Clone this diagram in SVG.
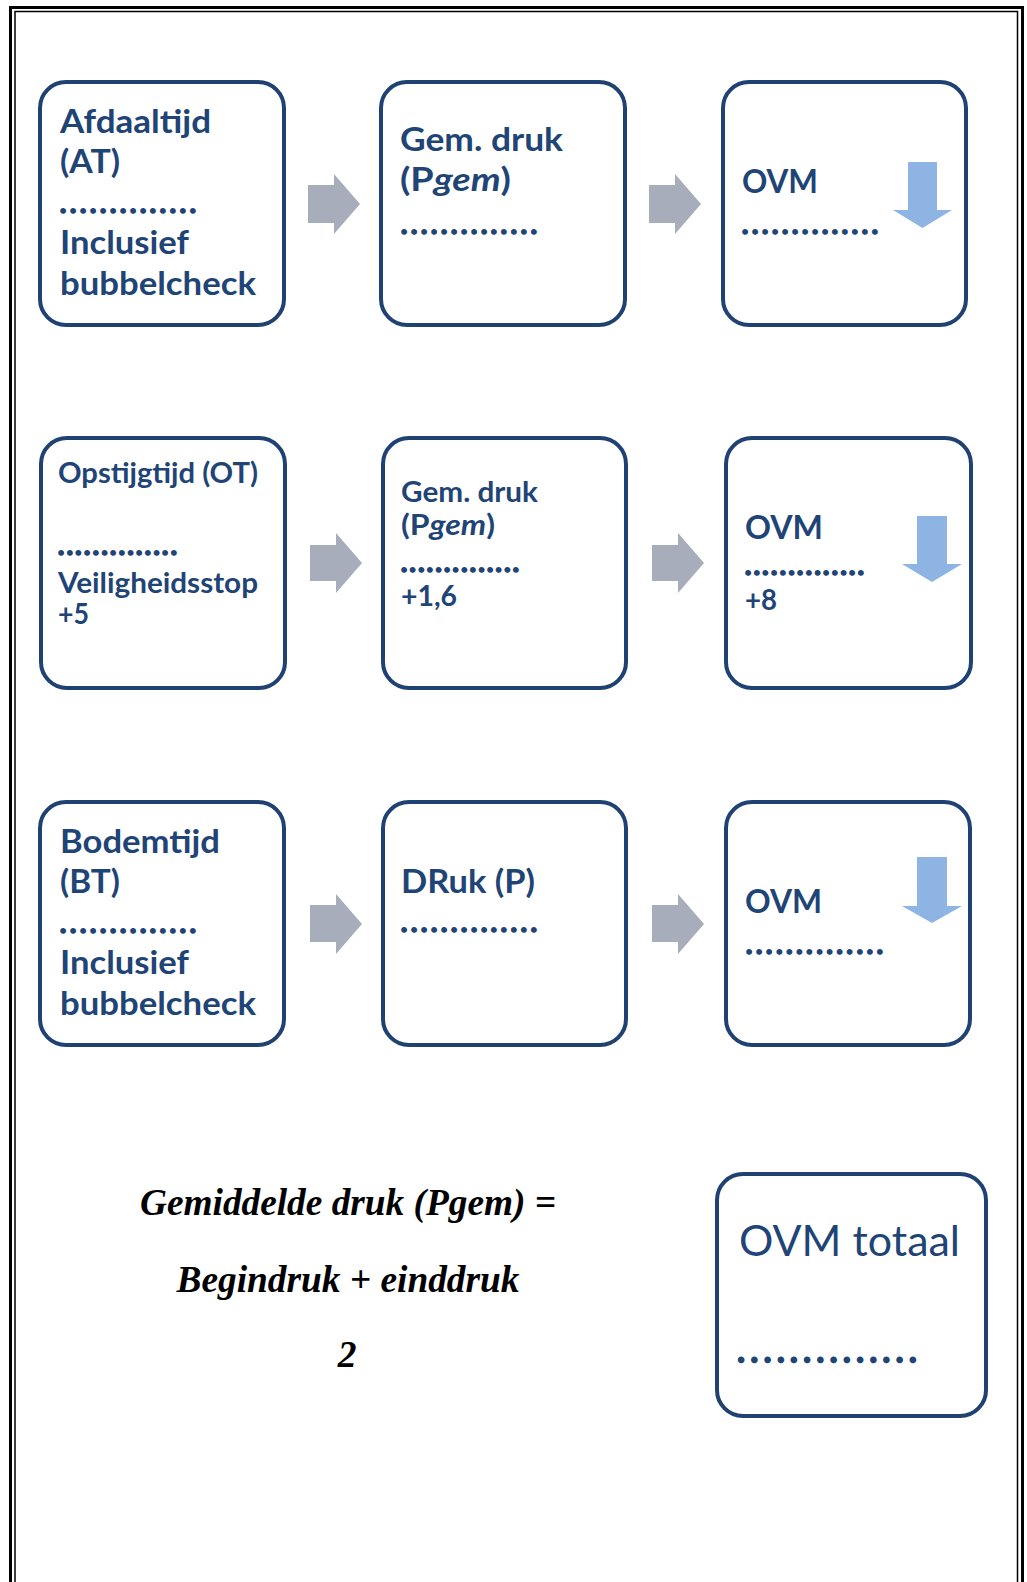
<svg xmlns="http://www.w3.org/2000/svg" width="1027" height="1582" viewBox="0 0 1027 1582">
<style>
.box{fill:#fff;stroke:#1f4273;stroke-width:4}
.t{font-family:Lato,"Liberation Sans",sans-serif;font-weight:bold;fill:#1f4476}
.big{font-size:33px}
.mid{font-size:28.5px}
.dots{font-family:Lato,"Liberation Sans",sans-serif;font-weight:900;fill:#1f4476;stroke:#1f4476;stroke-width:1.6;font-size:26px}
.reg{font-family:Lato,"Liberation Sans",sans-serif;font-weight:normal;fill:#1f4476;font-size:42px}
.f{font-family:"Liberation Serif","Times New Roman",serif;font-weight:bold;font-style:italic;font-size:37.5px;fill:#000}
.gray{fill:#a7adba}
.blue{fill:#8db4e3}
</style>
<rect width="1027" height="1582" fill="#fff"/>
<g id="frame" fill="none" stroke="#000">
<path d="M10.5 1590 V7.5 H1022.5 V1590" stroke-width="3"/>
<path d="M15 1590 V11.5 H1017.5 V1590" stroke-width="1.5"/>
</g>

<g id="connectors">
<polygon class="gray" points="308,185 334,185 334,174 360,204 334,234 334,223 308,223"/>
<polygon class="gray" points="649,185 675,185 675,174 701,204 675,234 675,223 649,223"/>
<polygon class="gray" points="310,545 336,545 336,533 362,563 336,593 336,581 310,581"/>
<polygon class="gray" points="652,545 678,545 678,533 704,563 678,593 678,581 652,581"/>
<polygon class="gray" points="310,905 336,905 336,894 362,924 336,954 336,942 310,942"/>
<polygon class="gray" points="652,905 678,905 678,894 704,924 678,954 678,942 652,942"/>
</g>

<g id="node-afdaaltijd">
<rect class="box" x="40" y="82" width="244" height="243" rx="26"/>
<text class="t big" x="60" y="133" textLength="151" lengthAdjust="spacingAndGlyphs">Afdaaltijd</text>
<text class="t big" x="60" y="173" textLength="60" lengthAdjust="spacingAndGlyphs">(AT)</text>
<text class="dots" x="60" y="213" textLength="136" lengthAdjust="spacing">..............</text>
<text class="t big" x="60" y="254" textLength="129" lengthAdjust="spacingAndGlyphs">Inclusief</text>
<text class="t big" x="60" y="295" textLength="196" lengthAdjust="spacingAndGlyphs">bubbelcheck</text>
</g>

<g id="node-gemdruk-1">
<rect class="box" x="381" y="82" width="244" height="243" rx="26"/>
<text class="t big" x="400" y="151" textLength="163" lengthAdjust="spacingAndGlyphs">Gem. druk</text>
<text class="t big" x="400" y="191" textLength="111" lengthAdjust="spacingAndGlyphs">(P<tspan font-style="italic">gem</tspan>)</text>
<text class="dots" x="401" y="234" textLength="136" lengthAdjust="spacing">..............</text>
</g>

<g id="node-ovm-1">
<rect class="box" x="723" y="82" width="243" height="243" rx="26"/>
<text class="t big" x="742" y="193" textLength="76" lengthAdjust="spacingAndGlyphs">OVM</text>
<text class="dots" x="742" y="234" textLength="136" lengthAdjust="spacing">..............</text>
<polygon class="blue" points="908,162 937,162 937,210 952,210 922.5,228 893,210 908,210"/>
</g>

<g id="node-opstijgtijd">
<rect class="box" x="41" y="438" width="244" height="250" rx="26"/>
<text class="t mid" x="58" y="483" textLength="200" lengthAdjust="spacingAndGlyphs">Opstijgtijd (OT)</text>
<text class="dots" x="58" y="555" font-size="23" textLength="119" lengthAdjust="spacing">..............</text>
<text class="t mid" x="58" y="593" textLength="200" lengthAdjust="spacingAndGlyphs">Veiligheidsstop</text>
<text class="t mid" x="58" y="624" textLength="31" lengthAdjust="spacingAndGlyphs">+5</text>
</g>

<g id="node-gemdruk-2">
<rect class="box" x="383" y="438" width="243" height="250" rx="26"/>
<text class="t mid" x="401" y="502" textLength="137" lengthAdjust="spacingAndGlyphs">Gem. druk</text>
<text class="t mid" x="401" y="535" textLength="94" lengthAdjust="spacingAndGlyphs">(P<tspan font-style="italic">gem</tspan>)</text>
<text class="dots" x="401" y="572" font-size="23" textLength="118" lengthAdjust="spacing">..............</text>
<text class="t mid" x="401" y="606" textLength="56" lengthAdjust="spacingAndGlyphs">+1,6</text>
</g>

<g id="node-ovm-2">
<rect class="box" x="726" y="438" width="245" height="250" rx="26"/>
<text class="t big" x="745" y="539" textLength="78" lengthAdjust="spacingAndGlyphs">OVM</text>
<text class="dots" x="745" y="575" font-size="23" textLength="119" lengthAdjust="spacing">..............</text>
<text class="t mid" x="745" y="610" textLength="32" lengthAdjust="spacingAndGlyphs">+8</text>
<polygon class="blue" points="917,516 947,516 947,564 962,564 932,582 902,564 917,564"/>
</g>

<g id="node-bodemtijd">
<rect class="box" x="40" y="802" width="244" height="243" rx="26"/>
<text class="t big" x="60" y="853" textLength="160" lengthAdjust="spacingAndGlyphs">Bodemtijd</text>
<text class="t big" x="60" y="893" textLength="60" lengthAdjust="spacingAndGlyphs">(BT)</text>
<text class="dots" x="60" y="933" textLength="136" lengthAdjust="spacing">..............</text>
<text class="t big" x="60" y="974" textLength="129" lengthAdjust="spacingAndGlyphs">Inclusief</text>
<text class="t big" x="60" y="1015" textLength="196" lengthAdjust="spacingAndGlyphs">bubbelcheck</text>
</g>

<g id="node-druk">
<rect class="box" x="383" y="802" width="243" height="243" rx="26"/>
<text class="t big" x="401" y="893" textLength="134" lengthAdjust="spacingAndGlyphs">DRuk (P)</text>
<text class="dots" x="401" y="932" textLength="136" lengthAdjust="spacing">..............</text>
</g>

<g id="node-ovm-3">
<rect class="box" x="726" y="802" width="244" height="243" rx="26"/>
<text class="t big" x="745" y="913" textLength="77" lengthAdjust="spacingAndGlyphs">OVM</text>
<text class="dots" x="746" y="954" textLength="137" lengthAdjust="spacing">..............</text>
<polygon class="blue" points="917,857 947,857 947,906 962,906 932,923 902,906 917,906"/>
</g>

<g id="formula">
<text class="f" x="348" y="1215" text-anchor="middle" textLength="416" lengthAdjust="spacingAndGlyphs">Gemiddelde druk (Pgem) =</text>
<text class="f" x="348" y="1292" text-anchor="middle" textLength="343" lengthAdjust="spacingAndGlyphs">Begindruk + einddruk</text>
<text class="f" x="347" y="1367" text-anchor="middle">2</text>
</g>

<g id="node-ovm-totaal">
<rect class="box" x="717" y="1174" width="269" height="242" rx="26"/>
<text class="reg" x="739" y="1256" textLength="221" lengthAdjust="spacingAndGlyphs">OVM totaal</text>
<text class="dots" x="738" y="1362" font-size="32" style="stroke-width:2.4" textLength="178" lengthAdjust="spacing">..............</text>
</g>
</svg>
